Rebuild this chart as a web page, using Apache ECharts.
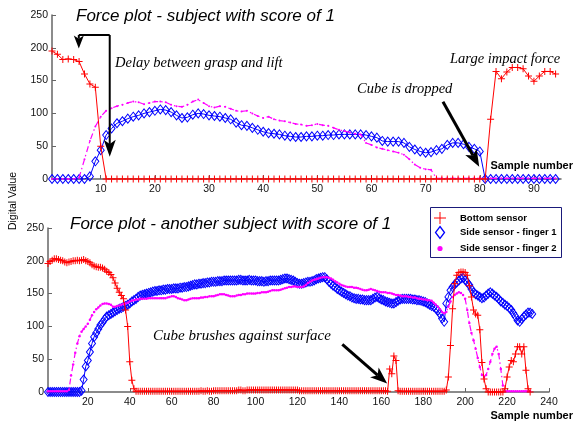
<!DOCTYPE html>
<html>
<head>
<meta charset="utf-8">
<script src="https://cdn.jsdelivr.net/npm/echarts@6/dist/echarts.min.js"></script>
<style>
html, body { margin: 0; padding: 0; background: #fff; }
#chart { width: 573px; height: 424px; }
</style>
</head>
<body>
<div id="chart"></div>
<script>
// ---- subject 1 (top plot), samples 1..94
var topBottomSensor = [
	195,190,182,183,182,179,160,145,140,50,
	0,0,0,0,0,0,0,0,0,0,
	0,0,0,0,0,0,0,0,0,0,
	0,0,0,0,0,0,0,0,0,0,
	0,0,0,0,0,0,0,0,0,0,
	0,0,0,0,0,0,0,0,0,0,
	0,0,0,0,0,0,0,0,0,0,
	0,0,0,0,0,0,0,0,0,0,
	0,91,164,153,163,170,170,168,157,149,
	157,164,164,160
];
var topFinger1 = [
	0,0,0,0,0,0,0,4,27,44,
	67,77,85,88,92,95,97,100,102,104,
	106,105,102,97,93,94,98,100,99,97,
	96,95,93,91,86,82,81,78,75,72,
	70,69,68,66,65,64,64,65,65,66,
	66,67,67,68,68,68,68,68,67,65,
	63,58,57,57,57,55,49,45,42,40,
	41,44,46,52,55,55,53,49,46,42,
	0,0,0,0,0,0,0,0,0,0,
	0,0,0,0
];
var topFinger2 = [
	0,0,0,0,0,2,30,58,80,95,
	104,108,111,113,116,118,117,114,116,118,
	118,117,113,111,110,113,118,121,116,111,
	109,111,110,107,104,103,104,100,96,93,
	95,91,89,88,86,84,83,81,82,84,
	82,81,78,75,73,71,69,68,55,52,
	48,46,44,42,40,37,30,22,17,15,
	14,1,1,1,1,1,1,1,1,1,
	1,1,1,1,1,1,1,1,1,1,
	1,1,1,1
];

// ---- another subject (bottom plot)
var botBottomSensor = [
	196,199,201,203,203,202,201,200,198,197,
	198,199,200,200,201,200,201,202,200,199,
	197,194,192,191,190,190,189,187,184,182,
	179,174,166,158,152,147,142,125,100,46,
	18,5,1,1,1,1,1,1,1,1,
	1,1,1,1,1,1,1,1,1,1,
	1,1,1,1,1,1,1,1,1,1,
	1,1,1,2,1,1,2,1,1,2,
	2,2,2,2,2,2,2,2,2,2,
	2,3,3,2,2,3,3,3,3,3,
	3,3,3,3,3,3,3,3,3,3,
	3,3,3,3,3,3,3,3,3,3,
	2,2,2,2,2,2,2,2,2,2,
	2,2,2,2,2,2,2,2,2,2,
	2,2,2,2,2,2,2,2,2,2,
	2,2,2,2,2,2,2,2,2,2,
	2,2,1,35,28,55,48,2,1,1,
	1,1,1,1,1,1,1,1,1,1,
	1,1,1,1,1,1,1,1,1,1,
	3,23,71,127,165,178,182,183,183,182,
	178,162,145,125,119,117,95,45,20,5,
	0,0,0,0,0,0,0,0,5,23,
	38,48,46,58,69,69,58,69,33,5,0
];
var botFinger1 = [
	0,0,0,0,0,0,0,0,0,0,
	0,0,0,0,0,0,2,19,39,48,
	61,74,84,90,96,102,106,111,115,117,
	119,121,123,125,127,128,130,131,133,135,
	138,140,142,145,147,148,149,150,151,152,
	153,154,154,155,155,156,156,157,157,157,
	158,158,158,159,159,160,160,161,162,163,
	164,164,165,165,166,166,167,167,168,168,
	168,169,169,169,170,170,170,170,170,170,
	170,171,171,170,170,170,171,170,170,170,
	169,169,169,168,169,169,170,170,170,170,
	170,171,172,173,173,172,171,170,168,166,
	165,165,166,167,168,168,169,170,172,173,
	174,175,175,172,168,165,162,160,157,155,
	153,151,149,147,146,144,143,142,142,141,
	141,140,140,140,140,142,144,145,143,141,
	140,138,137,136,135,135,137,139,141,142,
	142,142,142,142,141,141,140,140,139,138,
	137,135,133,131,130,127,124,119,112,107,
	135,145,155,160,164,167,170,173,174,171,
	167,163,157,152,149,147,145,143,144,147,
	150,152,150,147,145,142,138,136,133,131,
	128,125,120,115,109,107,111,115,118,121,
	121,119
];
var botFinger2 = [
	1,1,1,1,1,1,1,1,1,1,
	3,25,42,60,74,85,92,96,100,104,
	110,117,122,126,129,132,134,135,135,134,
	133,130,130,131,132,133,134,135,136,138,
	139,140,141,141,142,142,142,142,143,143,
	143,143,143,143,143,143,143,144,145,146,
	146,145,143,142,141,140,140,141,142,143,
	143,143,143,144,144,145,145,146,146,146,
	147,148,149,149,149,148,147,146,146,146,
	147,148,148,149,149,150,150,150,150,150,
	151,151,152,152,152,153,154,155,155,155,
	155,156,157,158,159,160,160,161,161,160,
	160,160,161,163,166,168,170,171,172,173,
	174,175,175,175,174,173,171,169,167,165,
	163,162,161,160,160,160,159,159,158,157,
	156,155,155,156,157,156,155,154,153,152,
	152,152,151,151,150,149,148,148,147,146,
	146,146,145,145,144,144,143,142,142,141,
	141,140,140,139,136,133,130,126,122,120,
	122,130,138,145,148,150,152,151,148,142,
	125,105,90,79,66,52,38,26,23,26,
	35,46,58,66,69,58,35,10,1,1,
	1,1,1,1,1,1,1,1,1,1,1
];

var topTicks = [10, 20, 30, 40, 50, 60, 70, 80, 90];
var botTicks = [20, 40, 60, 80, 100, 120, 140, 160, 180, 200, 220, 240];
var seriesNames = ['Bottom sensor', 'Side sensor - finger 1', 'Side sensor - finger 2'];

var plusPath = 'path://M3,0h1v3h3v1h-3v3h-1v-3h-3v-1h3z';
var sans = 'Liberation Sans';

function pairs(arr) {
	return arr.map(function (v, i) { return [i + 1, v]; });
}

function xAxisOpt(grid, max, ticks) {
	return {
		type: 'value', gridIndex: grid, min: 1, max: max,
		axisLine: { show: true, onZero: false, lineStyle: { color: '#666', width: 1.5 } },
		axisTick: { show: true, inside: true, length: 4, customValues: ticks, lineStyle: { color: '#666' } },
		axisLabel: { customValues: ticks, color: '#111', fontSize: 10.5, fontFamily: sans, margin: 5 },
		splitLine: { show: false }
	};
}
function yAxisOpt(grid) {
	return {
		type: 'value', gridIndex: grid, min: 0, max: 250, interval: 50,
		axisLine: { show: true, onZero: false, lineStyle: { color: '#666', width: 1.5 } },
		axisTick: { show: true, inside: true, length: 4, lineStyle: { color: '#666' } },
		axisLabel: { color: '#111', fontSize: 10.5, fontFamily: sans, margin: 4 },
		splitLine: { show: false }
	};
}

function finger1(grid, data) {
	return {
		name: seriesNames[1], type: 'line', xAxisIndex: grid, yAxisIndex: grid,
		data: pairs(data), symbol: 'diamond', symbolSize: [7, 9], showAllSymbol: true,
		lineStyle: { color: '#0000ff', width: 1 },
		itemStyle: { color: 'rgba(0,0,0,0)', borderColor: '#0000ff', borderWidth: 1 },
		z: 2
	};
}
function finger2(grid, data, dot) {
	return {
		name: seriesNames[2], type: 'line', xAxisIndex: grid, yAxisIndex: grid,
		data: pairs(data), symbol: 'circle', symbolSize: dot, showAllSymbol: true,
		lineStyle: { color: '#ff00ff', width: 1.2, type: [6, 3, 1.5, 3] },
		itemStyle: { color: '#ff00ff' },
		z: 3
	};
}
function bottomSensor(grid, data) {
	return {
		name: seriesNames[0], type: 'line', xAxisIndex: grid, yAxisIndex: grid,
		data: pairs(data), symbol: plusPath, symbolSize: 7, showAllSymbol: true,
		lineStyle: { color: '#ff0000', width: 1 },
		itemStyle: { color: '#ff0000' },
		z: 4
	};
}

var chart = echarts.init(document.getElementById('chart'));
var option = {
	animation: false,
	backgroundColor: '#fff',
	title: [{
		text: 'Force plot - subject with score of 1', left: 71, top: 3,
		textStyle: { fontFamily: sans, fontStyle: 'italic', fontWeight: 'normal', fontSize: 17, color: '#000' }
	}, {
		text: 'Force plot - another subject with score of 1', left: 65, top: 211,
		textStyle: { fontFamily: sans, fontStyle: 'italic', fontWeight: 'normal', fontSize: 17, color: '#000' }
	}],
	grid: [
		{ left: 52, right: 12, top: 15, height: 164 },
		{ left: 48, right: 24, top: 228, height: 164 }
	],
	xAxis: [xAxisOpt(0, 95, topTicks), xAxisOpt(1, 240, botTicks)],
	yAxis: [yAxisOpt(0), yAxisOpt(1)],
	series: [
		finger1(0, topFinger1), finger2(0, topFinger2, 2), bottomSensor(0, topBottomSensor),
		finger1(1, botFinger1), finger2(1, botFinger2, 2.5), bottomSensor(1, botBottomSensor)
	]
};
chart.setOption(option);

// annotations: arrows anchored in data coordinates
function px(grid, x, y) {
	return chart.convertToPixel({ gridIndex: grid }, [x, y]);
}
function arrow(p0, p1, headLen, headW, width) {
	var dx = p1[0] - p0[0], dy = p1[1] - p0[1];
	var len = Math.sqrt(dx * dx + dy * dy), ux = dx / len, uy = dy / len;
	var bx = p1[0] - ux * headLen, by = p1[1] - uy * headLen;
	var nx = p1[0] - ux * headLen * 0.75, ny = p1[1] - uy * headLen * 0.75;
	return [{
		type: 'line', z: 100,
		shape: { x1: p0[0], y1: p0[1], x2: nx, y2: ny },
		style: { stroke: '#000', lineWidth: width }
	}, {
		type: 'polygon', z: 100,
		shape: { points: [p1, [bx - uy * headW / 2, by + ux * headW / 2], [nx, ny], [bx + uy * headW / 2, by - ux * headW / 2]] },
		style: { fill: '#000' }
	}];
}
function label(text, x, y, font, align) {
	return {
		type: 'text', z: 100, x: x, y: y,
		style: { text: text, font: font, fill: '#000', align: align || 'left', verticalAlign: 'bottom' }
	};
}

var bl = px(0, 5.95, 219.5), br = px(0, 11.66, 219.5);
var g = [];
g.push({ type: 'polyline', z: 100, shape: { points: [bl, br] }, style: { stroke: '#000', lineWidth: 2 } });
g = g.concat(arrow(br, px(0, 11.66, 34), 17, 12, 2));
g = g.concat(arrow(bl, px(0, 5.95, 199), 13, 10, 2));
g = g.concat(arrow(px(0, 73.2, 117.8), px(0, 79.9, 18.8), 17, 13, 3));
g = g.concat(arrow(px(1, 141.4, 72.7), px(1, 162.8, 12.8), 17, 13, 3));

var italicSerif = 'italic 14.5px "Liberation Serif"';
g.push(label('Delay between grasp and lift', 115, 71, italicSerif));
g.push(label('Large impact force', 450, 67, italicSerif));
g.push(label('Cube is dropped', 357, 97, italicSerif));
g.push(label('Cube brushes against surface', 153, 344, 'italic 15px "Liberation Serif"'));
g.push(label('Sample number', 573, 171, 'bold 11px "Liberation Sans"', 'right'));
g.push(label('Sample number', 573, 421, 'bold 11px "Liberation Sans"', 'right'));
g.push({
	type: 'text', z: 100, x: 13, y: 201, rotation: Math.PI / 2,
	style: { text: 'Digital Value', font: '10.5px "Liberation Sans"', fill: '#000', align: 'center', verticalAlign: 'middle' }
});

// legend box drawn by hand to keep its small marker sizes
g.push({ type: 'rect', z: 100, shape: { x: 430.5, y: 207.5, width: 131, height: 50 }, style: { fill: '#fff', stroke: '#1a1a7a', lineWidth: 1 } });
g.push({ type: 'line', z: 101, shape: { x1: 434, y1: 218, x2: 446, y2: 218 }, style: { stroke: '#ff0000', lineWidth: 1 } });
g.push({ type: 'line', z: 101, shape: { x1: 440, y1: 212, x2: 440, y2: 224 }, style: { stroke: '#ff0000', lineWidth: 1 } });
g.push({ type: 'polygon', z: 101, shape: { points: [[440, 226.5], [444.5, 232.5], [440, 238.5], [435.5, 232.5]] }, style: { fill: 'none', stroke: '#0000ff', lineWidth: 1.3 } });
g.push({ type: 'circle', z: 101, shape: { cx: 440, cy: 248.5, r: 2.6 }, style: { fill: '#ff00ff' } });
var legendFont = 'bold 9.5px "Liberation Sans"';
[[seriesNames[0], 218], [seriesNames[1], 232.5], [seriesNames[2], 248.5]].forEach(function (it) {
	g.push({ type: 'text', z: 101, x: 460, y: it[1], style: { text: it[0], font: legendFont, fill: '#000', verticalAlign: 'middle' } });
});

chart.setOption({ graphic: g });
window.addEventListener('resize', function () {
	chart.resize();
});
</script>
</body>
</html>
